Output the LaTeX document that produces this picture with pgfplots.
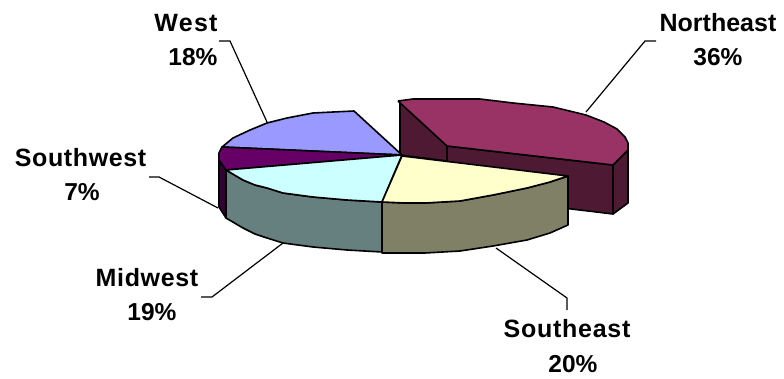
\documentclass[border=0pt]{standalone}
\usepackage{fontspec}
\setmainfont{Liberation Sans}
\usepackage{pgfplots}
\pgfplotsset{compat=1.18}

% outlined face of the exploded pie, and a thin callout line
\pgfplotsset{
  face/.style={fill=#1, draw=black, line width=1.6pt, line join=round},
  callout/.style={draw=black, line width=1.2pt, line join=miter},
}
\definecolor{neTop}{HTML}{993366}
\definecolor{neSide}{HTML}{4D1933}
\definecolor{seTop}{HTML}{FFFFCC}
\definecolor{seSide}{HTML}{808066}
\definecolor{mwTop}{HTML}{CCFFFF}
\definecolor{mwSide}{HTML}{668080}
\definecolor{swTop}{HTML}{660066}
\definecolor{swSide}{HTML}{330033}
\definecolor{wTop}{HTML}{9999FF}

% name at (#1,#2) with tracking #7, share at (#4,#5)
\newcommand{\regionlabel}[7]{%
  \node[anchor=base, font=\fontsize{25}{25}\selectfont\bfseries\addfontfeatures{LetterSpace=#7}] at (axis cs:#1,#2) {#3};
  \node[anchor=base, font=\fontsize{24.5}{25}\selectfont\bfseries] at (axis cs:#4,#5) {#6};
}

\begin{document}
\begin{tikzpicture}
\begin{axis}[
  scale only axis, width=784pt, height=378pt,
  xmin=0, xmax=784, ymin=0, ymax=378, y dir=reverse,
  hide axis, clip=false,
  axis background/.style={fill=white},
]
% Northeast: walls, then the lid
\addplot[face=neSide] coordinates {(400,101) (447,146) (447,161) (400,155) (400,101)};
\addplot[face=neSide] coordinates {(447,146) (613,165) (613,214) (447,194) (447,146)};
\addplot[face=neSide] coordinates {(613,165) (628,150) (628,203) (613,214) (613,165)};
\addplot[face=neTop] coordinates {(398,101) (413,99) (480,99) (513,103) (553,107) (586,115)
  (604,122) (617,129) (625,137) (628,143) (628,150) (613,165) (447,146) (398,101)};
% West
\addplot[face=wTop] coordinates {(402,155) (354,111) (333,112) (313,113) (287,118) (267,123)
  (250,130) (233,138) (222,147) (402,155)};
% Southwest
\addplot[face=swSide] coordinates {(219,160) (226,170) (226,218) (219,207) (219,160)};
\addplot[face=swTop] coordinates {(402,155) (222,147) (219,153) (219,160) (226,170) (402,155)};
% Midwest
\addplot[face=mwSide] coordinates {(226,170) (243,180) (255,185) (267,188) (283,193) (313,197) (347,200)
  (382,202) (382,252) (347,250) (313,247) (283,243) (267,238) (255,234) (243,228) (226,218) (226,170)};
\addplot[face=mwTop] coordinates {(402,155) (226,170) (243,180) (255,185) (267,188) (283,193) (313,197)
  (347,200) (382,202) (402,155)};
% Southeast
\addplot[face=seSide] coordinates {(382,202) (405,203) (425,203) (460,201) (493,195) (527,188) (550,182)
  (568,176) (568,225) (550,233) (527,240) (493,246) (460,251) (425,253) (405,253) (382,253) (382,202)};
\addplot[face=seTop] coordinates {(402,156) (382,202) (405,203) (425,203) (460,201) (493,195) (527,188)
  (550,182) (568,176) (402,156)};
% Callout lines
\addplot[callout] coordinates {(219,41) (230,41) (267,122)};
\addplot[callout] coordinates {(149,177) (159,177) (218,208)};
\addplot[callout] coordinates {(201,297) (212,297) (283,243)};
\addplot[callout] coordinates {(656,41) (645,41) (586,112)};
\addplot[callout] coordinates {(496,248) (567,298) (567,310)};
% Category names and shares
\regionlabel{186}{31}{West}{193}{65}{18\%}{5}
\regionlabel{718}{31}{Northeast}{718}{65}{36\%}{0}
\regionlabel{80.5}{166}{Southwest}{82}{200}{7\%}{2.5}
\regionlabel{147}{286}{Midwest}{152}{320}{19\%}{2.7}
\regionlabel{567}{337}{Southeast}{573}{372}{20\%}{3}
\end{axis}
\end{tikzpicture}
\end{document}
